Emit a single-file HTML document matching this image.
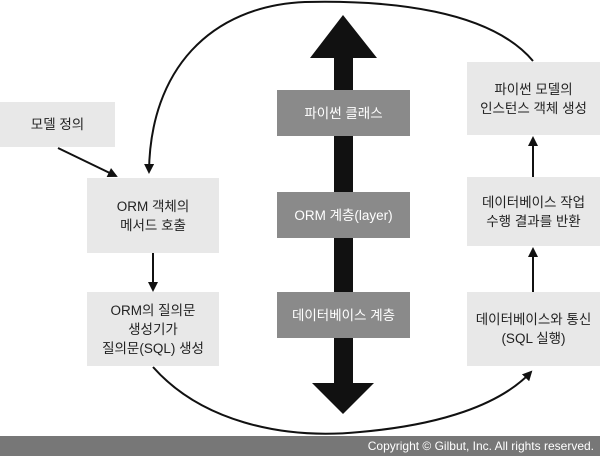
<!DOCTYPE html>
<html><head><meta charset="utf-8"><style>
body{margin:0;width:600px;height:456px;background:#fff;position:relative;overflow:hidden;font-family:"Liberation Sans","Noto Sans CJK KR",sans-serif;}
.b{position:absolute;display:flex;align-items:center;justify-content:center;text-align:center;font-size:13.5px;line-height:19px;color:#222;background:#e8e8e8;}
.d{background:#8a8a8a;color:#fff;}
.f{position:absolute;left:0;top:436px;width:600px;height:20px;background:#777;color:#fff;font-size:12px;line-height:20px;text-align:right;box-sizing:border-box;padding-right:6px;}
</style></head><body>
<svg width="600" height="456" style="position:absolute;left:0;top:0">
<defs><marker id="a" markerWidth="10" markerHeight="10" refX="8" refY="5" orient="auto" markerUnits="userSpaceOnUse"><path d="M0,0 L10,5 L0,10 z" fill="#111"/></marker></defs>
<path d="M533,61 C490,10 390,0 305,2 C210,6 150,70 149,172" fill="none" stroke="#111" stroke-width="2" marker-end="url(#a)"/>
<path d="M153,367 C200,420 280,440 360,432 C440,425 500,405 531,372" fill="none" stroke="#111" stroke-width="2" marker-end="url(#a)"/>
<line x1="58" y1="148" x2="116" y2="176" stroke="#111" stroke-width="2" marker-end="url(#a)"/>
<line x1="153" y1="253" x2="153" y2="290" stroke="#111" stroke-width="2" marker-end="url(#a)"/>
<line x1="533" y1="292" x2="533" y2="249" stroke="#111" stroke-width="2" marker-end="url(#a)"/>
<line x1="533" y1="177" x2="533" y2="138" stroke="#111" stroke-width="2" marker-end="url(#a)"/>
<rect x="334" y="55" width="19" height="330" fill="#111"/>
<polygon points="343,15 377,58 310,58" fill="#111"/>
<polygon points="312,383 374,383 343,414" fill="#111"/>
</svg>
<div class="b" style="left:0;top:102px;width:115px;height:45px">모델 정의</div>
<div class="b" style="left:87px;top:178px;width:132px;height:75px">ORM 객체의<br>메서드 호출</div>
<div class="b" style="left:87px;top:292px;width:132px;height:74px">ORM의 질의문<br>생성기가<br>질의문(SQL) 생성</div>
<div class="b d" style="left:277px;top:90px;width:133px;height:46px">파이썬 클래스</div>
<div class="b d" style="left:277px;top:192px;width:133px;height:46px">ORM 계층(layer)</div>
<div class="b d" style="left:277px;top:292px;width:133px;height:46px">데이터베이스 계층</div>
<div class="b" style="left:467px;top:62px;width:133px;height:73px">파이썬 모델의<br>인스턴스 객체 생성</div>
<div class="b" style="left:467px;top:177px;width:133px;height:69px">데이터베이스 작업<br>수행 결과를 반환</div>
<div class="b" style="left:467px;top:292px;width:133px;height:74px">데이터베이스와 통신<br>(SQL 실행)</div>
<div class="f">Copyright © Gilbut, Inc. All rights reserved.</div>
</body></html>
